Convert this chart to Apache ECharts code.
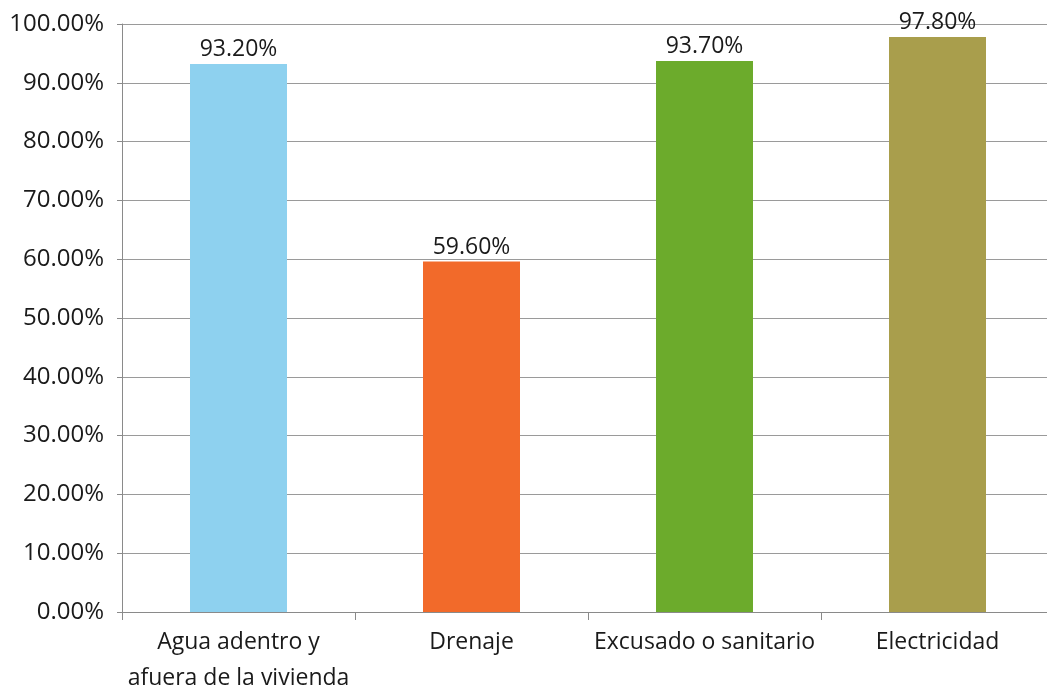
<!DOCTYPE html>
<html><head><meta charset="utf-8">
<script src="https://cdn.jsdelivr.net/npm/echarts@6/dist/echarts.min.js"></script>
<style>html,body{margin:0;padding:0;background:#fff}#c{width:1047px;height:691px}</style>
</head><body><div id="c"></div>
<script>
const categories = ["Agua adentro y\nafuera de la vivienda", "Drenaje", "Excusado o sanitario", "Electricidad"];
const values = [93.2, 59.6, 93.7, 97.8];
const colors = ["#8ED1EF", "#F26A2A", "#6CAB2C", "#A99E4C"];
const yTicks = [0, 10, 20, 30, 40, 50, 60, 70, 80, 90, 100];

const chart = echarts.init(document.getElementById('c'));
const font = '"Open Sans", "Noto Sans", sans-serif';
chart.setOption({
  animation: false,
  grid: { left: 122, top: 24, width: 932, bottom: 79, containLabel: false, outerBoundsMode: 'none' },
  xAxis: {
    type: 'category', data: categories,
    axisLine: { lineStyle: { color: '#8a8a8a', width: 1 } },
    axisTick: { show: true, length: 8, lineStyle: { color: '#8a8a8a' } },
    axisLabel: { color: '#1a1a1a', fontSize: 23, fontFamily: font, margin: 12, lineHeight: 36, interval: 0 }
  },
  yAxis: {
    type: 'value', min: yTicks[0], max: yTicks[yTicks.length - 1], interval: 10,
    axisLine: { show: true, lineStyle: { color: '#8a8a8a' } },
    axisTick: { show: true, length: 5, lineStyle: { color: '#8a8a8a' } },
    splitLine: { lineStyle: { color: '#9a9a9a', width: 1 } },
    axisLabel: { color: '#1a1a1a', fontSize: 24, fontFamily: font, margin: 18, formatter: v => v.toFixed(2) + '%' }
  },
  series: [{
    type: 'bar', barWidth: 97,
    data: values.map((v, i) => ({ value: v, itemStyle: { color: colors[i] } })),
    label: { show: true, position: 'top', distance: 3, color: '#1a1a1a', fontSize: 23, fontFamily: font, formatter: p => p.value.toFixed(2) + '%' }
  }]
});
</script></body></html>
